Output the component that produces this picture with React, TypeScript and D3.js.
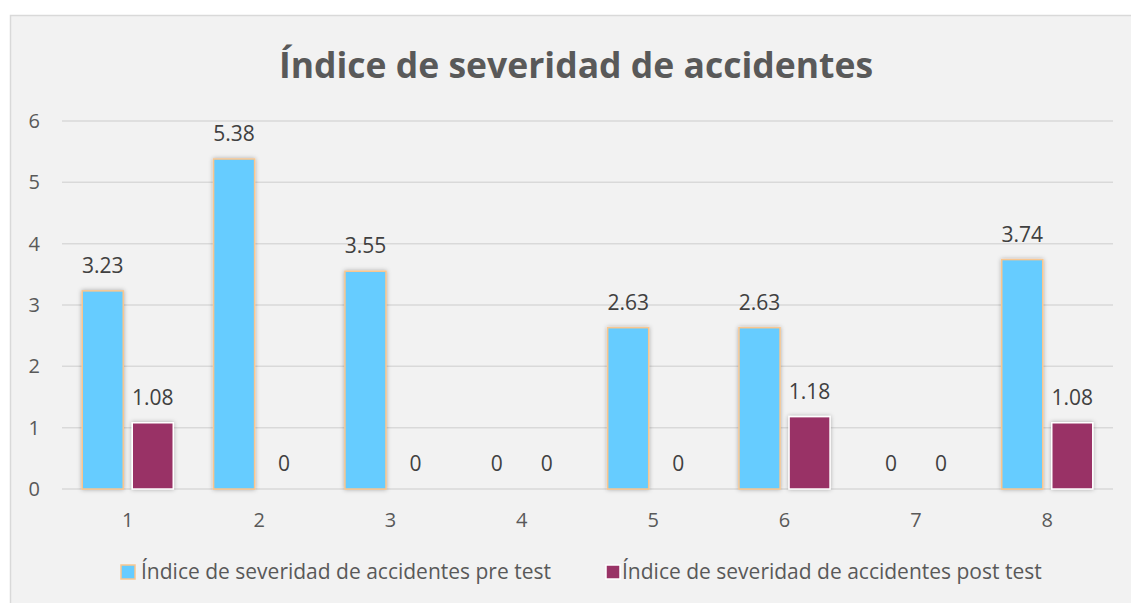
import React from "react";
import * as d3 from "d3";

const categories = ["1", "2", "3", "4", "5", "6", "7", "8"];
const preTest = [3.23, 5.38, 3.55, 0, 2.63, 2.63, 0, 3.74];
const postTest = [1.08, 0, 0, 0, 0, 1.18, 0, 1.08];
const seriesNames = [
  "Índice de severidad de accidentes pre test",
  "Índice de severidad de accidentes post test",
];
const yTicks = [0, 1, 2, 3, 4, 5, 6];
const title = "Índice de severidad de accidentes";

const W = 1131;
const H = 603;
const FONT = "'Open Sans', 'Liberation Sans', sans-serif";

export default function App() {
  const left = 62;
  const right = 1113;
  const top = 121;
  const bottom = 489;

  const x0 = d3
    .scaleBand<string>()
    .domain(categories)
    .range([left, right])
    .paddingInner(0.307)
    .paddingOuter(0.154);
  const x1 = d3
    .scaleBand<string>()
    .domain(["pre", "post"])
    .range([0, x0.bandwidth()])
    .paddingInner(0.18);
  const y = d3.scaleLinear().domain([0, 6]).range([bottom, top]);

  const series = [
    { key: "pre", values: preTest, fill: "#66CCFF", stroke: "#F9C68F" },
    { key: "post", values: postTest, fill: "#993366", stroke: "#FFFFFF" },
  ];

  return (
    <svg
      width={W}
      height={H}
      style={{ position: "absolute", left: 0, top: 0, display: "block" }}
      fontFamily={FONT}
    >
      <defs>
        <filter id="shadow" x="-20%" y="-20%" width="140%" height="140%">
          <feDropShadow dx="0" dy="0" stdDeviation="2" floodColor="#000" floodOpacity="0.3" />
        </filter>
      </defs>
      <rect x={0} y={0} width={W} height={H} fill="#ffffff" />
      <rect x={10.5} y={15.5} width={W + 10} height={H + 10} fill="#F2F2F2" stroke="#D9D9D9" strokeWidth={1.5} />
      <text x={576} y={78} textAnchor="middle" fontSize={35.5} fontWeight="bold" fill="#595959">
        {title}
      </text>
      {yTicks.map((t) => (
        <g key={t}>
          <line x1={left} x2={right} y1={y(t)} y2={y(t)} stroke="#D9D9D9" strokeWidth={1.5} />
          <text x={40} y={y(t) + 7} textAnchor="end" fontSize={20} fill="#595959">
            {t}
          </text>
        </g>
      ))}
      {categories.map((c) => (
        <text key={c} x={(x0(c) ?? 0) + x0.bandwidth() / 2} y={527} textAnchor="middle" fontSize={20} fill="#595959">
          {c}
        </text>
      ))}
      {series.map((s) =>
        categories.map((c, i) => {
          const v = s.values[i];
          const bx = (x0(c) ?? 0) + (x1(s.key) ?? 0);
          const bw = x1.bandwidth();
          return (
            <g key={s.key + c}>
              {v > 0 && (
                <rect
                  x={bx}
                  y={y(v)}
                  width={bw}
                  height={y(0) - y(v)}
                  fill={s.fill}
                  stroke={s.stroke}
                  strokeWidth={1.5}
                  filter="url(#shadow)"
                />
              )}
              <text x={bx + bw / 2} y={y(v) - 18} textAnchor="middle" fontSize={21} fill="#404040">
                {d3.format("")(v)}
              </text>
            </g>
          );
        })
      )}
      <g>
        <rect x={121} y={565} width={14} height={14} fill="#66CCFF" stroke="#F9C68F" strokeWidth={1.5} />
        <text x={141} y={579} fontSize={21} fill="#595959">
          {seriesNames[0]}
        </text>
        <rect x={606} y={565} width={14} height={14} fill="#993366" stroke="#FFFFFF" strokeWidth={1.5} />
        <text x={622} y={579} fontSize={21} fill="#595959">
          {seriesNames[1]}
        </text>
      </g>
    </svg>
  );
}
